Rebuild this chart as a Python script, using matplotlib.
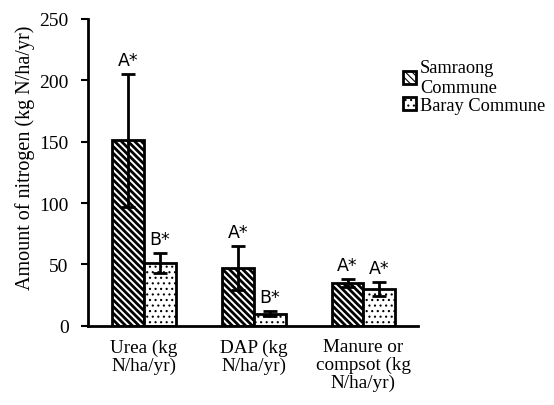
import numpy as np
import matplotlib
matplotlib.use("Agg")
import matplotlib.pyplot as plt

# Data
categories = ['Urea (kg\nN/ha/yr)', 'DAP (kg\nN/ha/yr)', 'Manure or\ncompsot (kg\nN/ha/yr)']
samraong = [151, 47, 35]
samraong_err = [54, 18, 3.5]
baray = [51, 10, 30]
baray_err = [8, 2, 6]
samraong_lbl = ['A*', 'A*', 'A*']
baray_lbl = ['B*', 'B*', 'A*']

serif = 'Liberation Serif'

fig = plt.figure(figsize=(5.54, 4.06), dpi=100)
ax = fig.add_axes([0.159, 0.195, 0.596, 0.756])

x = np.arange(len(categories))
w = 0.29
plt.rcParams['hatch.linewidth'] = 2.0
b1 = ax.bar(x - w/2, samraong, w, color='white', edgecolor='black', linewidth=2,
            hatch='\\' * 5, label='Samraong\nCommune')
plt.rcParams['hatch.linewidth'] = 0.8
b2 = ax.bar(x + w/2, baray, w, color='white', edgecolor='black', linewidth=2,
            hatch='...', label='Baray Commune')
ax.errorbar(x - w/2, samraong, yerr=samraong_err, fmt='none', ecolor='black',
            elinewidth=2, capsize=4.7, capthick=2)
ax.errorbar(x + w/2, baray, yerr=baray_err, fmt='none', ecolor='black',
            elinewidth=2, capsize=4.7, capthick=2)

# Significance letters
for i in range(len(categories)):
    ax.text(x[i] - w/2, samraong[i] + samraong_err[i] + 4, samraong_lbl[i],
            ha='center', va='bottom', fontsize=12.5, family='DejaVu Sans')
    ax.text(x[i] + w/2, baray[i] + baray_err[i] + 4, baray_lbl[i],
            ha='center', va='bottom', fontsize=12.5, family='DejaVu Sans')

ax.set_xlim(-0.511, 2.50)
ax.set_ylim(0, 250)
ax.set_yticks([0, 50, 100, 150, 200, 250])
ax.set_xticks(x)
ax.set_xticklabels(categories, family=serif, fontsize=13.8, linespacing=1.05)
ax.tick_params(axis='x', length=0, pad=9)
ax.tick_params(axis='y', labelsize=14, width=1.5, length=5, direction='out', pad=9)
for lab in ax.get_yticklabels():
    lab.set_family(serif)
ax.set_ylabel('Amount of nitrogen (kg N/ha/yr)', family=serif, fontsize=14.5)
ax.yaxis.set_label_coords(-0.16, 0.55)
ax.spines['top'].set_visible(False)
ax.spines['right'].set_visible(False)
ax.spines['left'].set_linewidth(2)
ax.spines['bottom'].set_linewidth(2)

fig.legend(handles=[b1, b2], loc='upper left', bbox_to_anchor=(0.715, 0.87),
           frameon=False, prop={'family': serif, 'size': 13.2},
           handlelength=0.7, handleheight=0.7, handletextpad=0.2,
           labelspacing=0.05, borderaxespad=0)

fig.savefig('out.png', dpi=100)
